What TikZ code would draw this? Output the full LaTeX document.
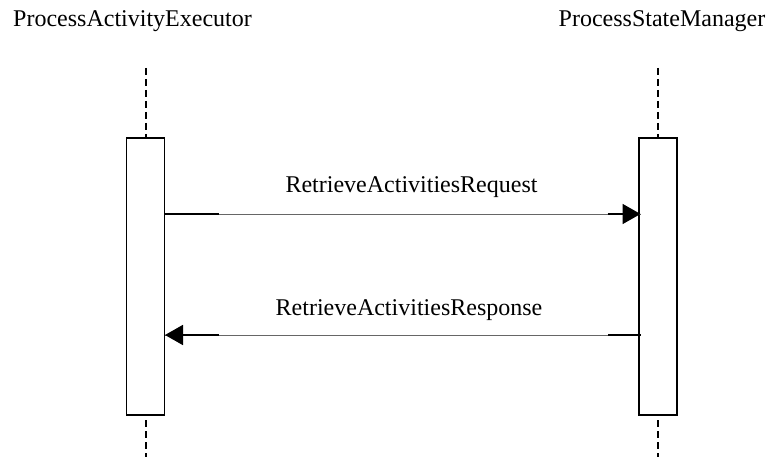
\documentclass[tikz,border=0pt]{standalone}
\usepackage{fontspec}
\setmainfont{Liberation Serif}
\usetikzlibrary{arrows.meta,calc}
\begin{document}
\begin{tikzpicture}[x=1pt,y=-1pt,
  actbox/.style={draw=black,line width=1.3pt,fill=white,minimum width=38pt,minimum height=277pt,inner sep=0pt},
  life/.style={draw=black,line width=1.4pt,dash pattern=on 7pt off 4pt},
  lbl/.style={anchor=base,inner sep=0pt,font=\fontsize{24}{28}\selectfont},
  msgthin/.style={draw=black!60,line width=0.9pt},
  msgthick/.style={draw=black,line width=1.8pt},
  tip/.style={-{Triangle[length=18pt,width=20pt]}}]
\useasboundingbox (0,0) rectangle (771,457);
% headers
\node[lbl] (hA) at (132.5,27) {ProcessActivityExecutor};
\node[lbl] (hB) at (662,27) {ProcessStateManager};
% lifeline ends
\coordinate (At) at (146,68);
\coordinate (Ab) at (146,457);
\coordinate (Bt) at (658,68);
\coordinate (Bb) at (658,457);
\draw[life] (At) -- (Ab);
\draw[life] (Bt) -- (Bb);
% activation boxes
\node[actbox] (A) at (145.5,276.5) {};
\node[actbox] (B) at (658,276.5) {};
% message 1
\coordinate (m1s) at (164.5,214);
\coordinate (m1e) at (640.5,214);
\draw[msgthin] (m1s) -- (m1e);
\draw[msgthick] (m1s) -- ($(m1s)+(54,0)$);
\draw[msgthick,tip] ($(m1e)+(-33,0)$) -- (m1e);
\node[lbl] (t1) at (411.5,193) {RetrieveActivitiesRequest};
% message 2
\coordinate (m2s) at (640.5,335);
\coordinate (m2e) at (165,335);
\draw[msgthin] (m2s) -- (m2e);
\draw[msgthick] (m2s) -- ($(m2s)+(-33,0)$);
\draw[msgthick,tip] ($(m2e)+(54,0)$) -- (m2e);
\node[lbl] (t2) at (409,315) {RetrieveActivitiesResponse};
\end{tikzpicture}
\end{document}
